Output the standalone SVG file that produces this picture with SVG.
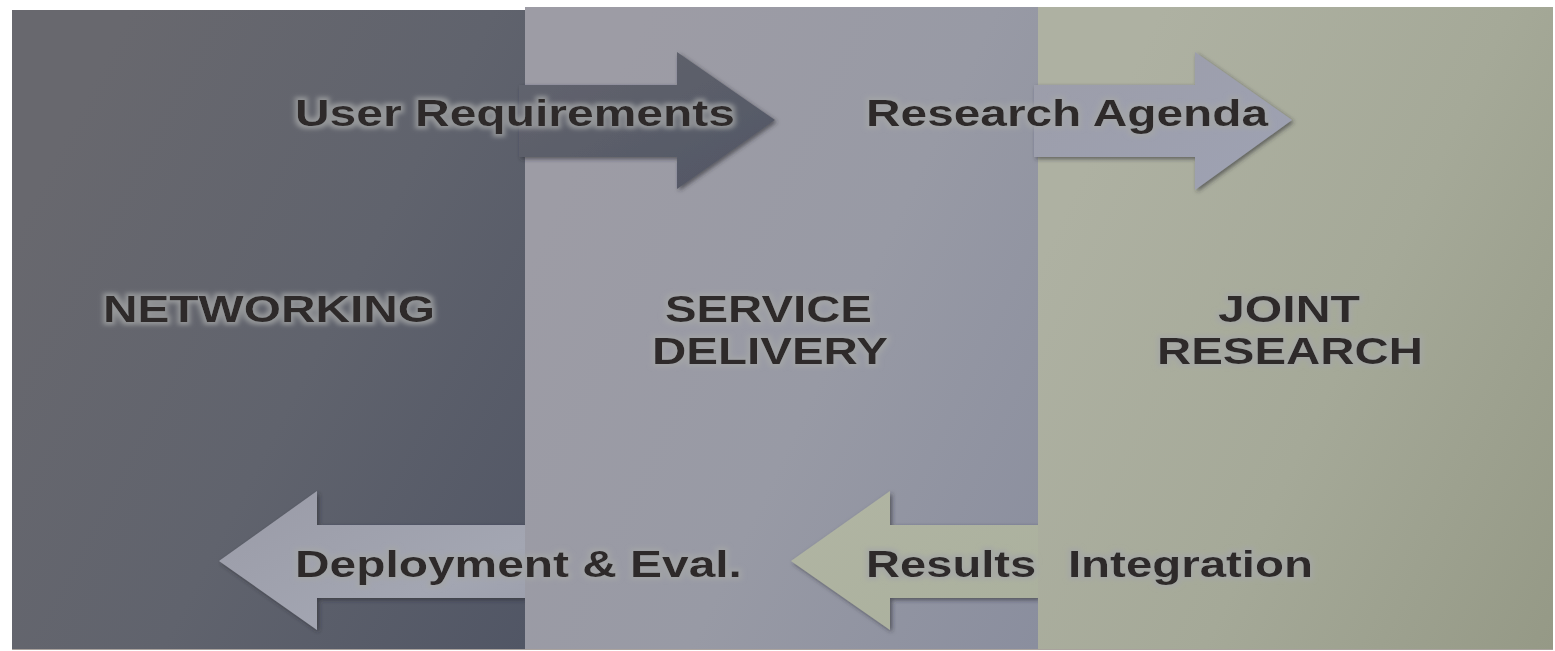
<svg xmlns="http://www.w3.org/2000/svg" width="1555" height="651" viewBox="0 0 1555 651">
  <defs>
    <linearGradient id="gLeft" x1="0" y1="0.35" x2="1" y2="1">
      <stop offset="0" stop-color="#68686e"/>
      <stop offset="0.5" stop-color="#60636d"/>
      <stop offset="1" stop-color="#515665"/>
    </linearGradient>
    <linearGradient id="gMid" x1="0" y1="0.4" x2="1" y2="1">
      <stop offset="0" stop-color="#9d9ca5"/>
      <stop offset="0.5" stop-color="#989aa5"/>
      <stop offset="1" stop-color="#8a8e9e"/>
    </linearGradient>
    <linearGradient id="gRight" x1="0" y1="0.4" x2="1" y2="1">
      <stop offset="0" stop-color="#aeb1a2"/>
      <stop offset="0.5" stop-color="#a5a998"/>
      <stop offset="1" stop-color="#959986"/>
    </linearGradient>
    <linearGradient id="gA1" x1="0" y1="0" x2="1" y2="1">
      <stop offset="0" stop-color="#63656f"/>
      <stop offset="1" stop-color="#525664"/>
    </linearGradient>
    <linearGradient id="gA2" x1="0" y1="0" x2="1" y2="1">
      <stop offset="0" stop-color="#9c9da9"/>
      <stop offset="1" stop-color="#9ea2b3"/>
    </linearGradient>
    <linearGradient id="gA3" x1="0" y1="0" x2="1" y2="1">
      <stop offset="0" stop-color="#9a9ba7"/>
      <stop offset="0.7" stop-color="#a3a6b2"/>
      <stop offset="1" stop-color="#9a9dab"/>
    </linearGradient>
    <linearGradient id="gA4" x1="0" y1="0" x2="1" y2="1">
      <stop offset="0" stop-color="#b1b5a3"/>
      <stop offset="1" stop-color="#aab09d"/>
    </linearGradient>
    <filter id="shadow" x="-10%" y="-10%" width="125%" height="125%">
      <feGaussianBlur in="SourceAlpha" stdDeviation="2"/>
      <feOffset dx="2" dy="2" result="b"/>
      <feFlood flood-color="#2a2a30" flood-opacity="0.6"/>
      <feComposite in2="b" operator="in" result="s"/>
      <feMerge><feMergeNode in="s"/><feMergeNode in="SourceGraphic"/></feMerge>
    </filter>
    <filter id="glow" x="-5%" y="-30%" width="110%" height="160%">
      <feMorphology in="SourceAlpha" operator="dilate" radius="2.5" result="d"/>
      <feGaussianBlur in="d" stdDeviation="2.2" result="bl"/>
      <feFlood flood-color="#a4a6a6" flood-opacity="0.75"/>
      <feComposite in2="bl" operator="in" result="g"/>
      <feMerge><feMergeNode in="g"/><feMergeNode in="SourceGraphic"/></feMerge>
    </filter>
  </defs>
  <style>
    .lbl { font-family: "Liberation Sans", Arial, sans-serif; font-weight: bold; fill: #2d292b; }
    .flow { font-size: 37px; }
    .panel { font-size: 36px; }
  </style>
  <rect x="0" y="0" width="1555" height="651" fill="#ffffff"/>
  <rect x="12" y="648" width="1541" height="2" fill="#857a74" opacity="0.7"/>

  <g id="networking">
    <rect x="12" y="10" width="513" height="639" fill="url(#gLeft)"/>
  </g>

  <g id="connectors">
    <g id="deployment-arrow">
      <path d="M525,525 L317,525 L317,491 L219,561 L317,630 L317,598 L525,598 Z" fill="url(#gA3)" filter="url(#shadow)"/>
    </g>
  </g>

  <g id="service-delivery">
    <rect x="525" y="7" width="513" height="642" fill="url(#gMid)"/>
  </g>

  <g id="connectors-2">
    <g id="user-req-arrow">
      <path d="M519,85 L677,85 L677,52 L775,120 L677,189 L677,157 L519,157 Z" fill="url(#gA1)" filter="url(#shadow)"/>
    </g>
    <g id="results-arrow">
      <path d="M1038,525 L890,525 L890,491 L791,561 L890,630 L890,598 L1038,598 Z" fill="url(#gA4)" filter="url(#shadow)"/>
    </g>
  </g>

  <g id="joint-research">
    <rect x="1038" y="7" width="515" height="642" fill="url(#gRight)"/>
  </g>

  <g id="connectors-3">
    <g id="agenda-arrow">
      <path d="M1034,85 L1195,85 L1195,52 L1292,120 L1195,190 L1195,157 L1034,157 Z" fill="url(#gA2)" filter="url(#shadow)"/>
    </g>
  </g>

  <g id="labels" transform="scale(1.3,1)" filter="url(#glow)">
    <text class="lbl panel" x="79.2" y="322" textLength="255.4" lengthAdjust="spacingAndGlyphs">NETWORKING</text>
    <text class="lbl panel" x="511.5" y="322" textLength="159.2" lengthAdjust="spacingAndGlyphs">SERVICE</text>
    <text class="lbl panel" x="501.5" y="364" textLength="181.5" lengthAdjust="spacingAndGlyphs">DELIVERY</text>
    <text class="lbl panel" x="936.9" y="322" textLength="109.2" lengthAdjust="spacingAndGlyphs">JOINT</text>
    <text class="lbl panel" x="890" y="364" textLength="204.6" lengthAdjust="spacingAndGlyphs">RESEARCH</text>
    <text class="lbl flow" x="226.9" y="126" textLength="338.5" lengthAdjust="spacingAndGlyphs">User Requirements</text>
    <text class="lbl flow" x="666.2" y="126" textLength="309.2" lengthAdjust="spacingAndGlyphs">Research Agenda</text>
    <text class="lbl flow" x="226.9" y="577" textLength="343.8" lengthAdjust="spacingAndGlyphs">Deployment &amp; Eval.</text>
    <text class="lbl flow" x="666.2" y="577" textLength="130.8" lengthAdjust="spacingAndGlyphs">Results</text>
    <text class="lbl flow" x="821.5" y="577" textLength="188.5" lengthAdjust="spacingAndGlyphs">Integration</text>
  </g>
</svg>
